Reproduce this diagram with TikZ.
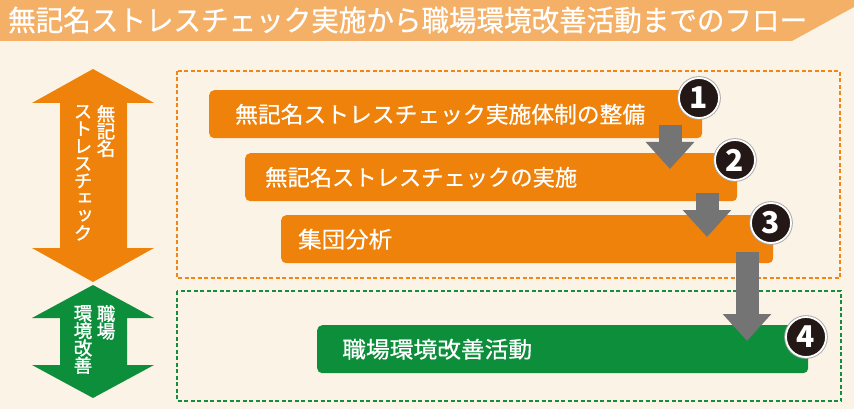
\documentclass[tikz,border=0pt]{standalone}
\usepackage{fontspec}
\usepackage{graphicx}
\usetikzlibrary{arrows.meta}
\newfontfamily\jp[FakeBold=0.6]{Noto Sans CJK JP}
\newfontfamily\jpv[RawFeature=+vert,FakeBold=1.4]{Noto Sans CJK JP}
\newfontfamily\jpn{Noto Sans CJK JP}
\definecolor{bg}{HTML}{FCF3E7}
\definecolor{banner}{HTML}{F4B066}
\definecolor{orng}{HTML}{EE820A}
\definecolor{grn}{HTML}{0C8E3B}
\definecolor{gry}{HTML}{747474}
\definecolor{blk}{HTML}{231815}
\definecolor{dorng}{HTML}{F08518}
\definecolor{dgrn}{HTML}{168C3E}
\newcommand{\fitw}[2]{\resizebox{#1}{\height}{#2}}
\begin{document}
\begin{tikzpicture}[x=1pt,y=-1pt,
  bar/.style={fill=orng, rounded corners=5pt, inner sep=0pt, anchor=north west, minimum height=48pt},
  gbar/.style={bar, fill=grn},
  bartext/.style={anchor=west, inner sep=0pt, text=white, font=\jp\fontsize{22.5}{24}\selectfont},
  vtext/.style={anchor=north, inner sep=0pt, text=white, align=center, font=\jpv\fontsize{18.5}{17.4}\selectfont},
  garrow/.style={draw=gry, line width=23pt, -{Triangle[width=47pt,length=27pt]}},
  badge/.style={circle, fill=blk, draw=white, line width=1.8pt, minimum size=40pt, inner sep=0pt, text=white,
    font=\jpn\bfseries\fontsize{30}{30}\selectfont, preaction={draw=black!35, line width=3.6pt}},
  obox/.style={draw=dorng, line width=2.8pt, dash pattern=on 4pt off 2.5pt},
  gbox/.style={draw=dgrn, line width=2.8pt, dash pattern=on 4pt off 2.5pt}
]
\fill[bg] (0,0) rectangle (854,409);
\useasboundingbox (0,0) rectangle (854,409);
% title banner
\fill[banner] (0,0) -- (854,0) -- (854,7) -- (792,41) -- (0,41) -- cycle;
\node[anchor=west, inner sep=0pt, text=white] (title) at (8,20)
  {\scalebox{0.95}[1]{\jp\fontsize{29}{29}\selectfont 無記名ストレスチェック実施から職場環境改善活動までのフロー}};
% dashed frames
\draw[obox] (177,71) rectangle (840,278);
\draw[gbox] (177,291) rectangle (841,401);
% left double arrows
\fill[orng] (93,69) -- (154,103) -- (127,103) -- (127,248) -- (154,248) -- (93,282)
  -- (32,248) -- (60,248) -- (60,103) -- (32,103) -- cycle;
\fill[grn] (93,285) -- (154,318) -- (127,318) -- (127,365) -- (154,365) -- (93,398)
  -- (32,365) -- (60,365) -- (60,318) -- (32,318) -- cycle;
\node[vtext] (v1) at (106,105) {無\\記\\名};
\node[vtext] (v2) at (83,105) {ス\\ト\\レ\\ス\\チ\\ェ\\ッ\\ク};
\node[vtext] (v3) at (106,305) {職\\場};
\node[vtext] (v4) at (83,305) {環\\境\\改\\善};
% bars
\node[bar, minimum width=493pt] (b1) at (209,90) {};
\node[bar, minimum width=492pt] (b2) at (245,153) {};
\node[bar, minimum width=492pt] (b3) at (281,215) {};
\node[gbar, minimum width=491pt] (b4) at (317,325) {};
\node[bartext] (t1) at ([xshift=26pt]b1.west) {\fitw{410pt}{無記名ストレスチェック実施体制の整備}};
\node[bartext] (t2) at ([xshift=20pt]b2.west) {\fitw{312pt}{無記名ストレスチェックの実施}};
\node[bartext] (t3) at ([xshift=17pt]b3.west) {\fitw{94pt}{集団分析}};
\node[bartext] (t4) at ([xshift=25pt]b4.west) {\fitw{190pt}{職場環境改善活動}};
% gray arrows
\coordinate (a1s) at (670,125); \coordinate (a1e) at (670,169);
\coordinate (a2s) at (707,193); \coordinate (a2e) at (707,237);
\coordinate (a3s) at (747,252); \coordinate (a3e) at (747,341);
\draw[garrow] (a1s) -- (a1e);
\draw[garrow] (a2s) -- (a2e);
\draw[garrow] (a3s) -- (a3e);
% badges
\node[badge] (n1) at (699,98) {1};
\node[badge] (n2) at (735,160) {2};
\node[badge] (n3) at (771,223) {3};
\node[badge] (n4) at (806,337) {4};
\end{tikzpicture}
\end{document}
